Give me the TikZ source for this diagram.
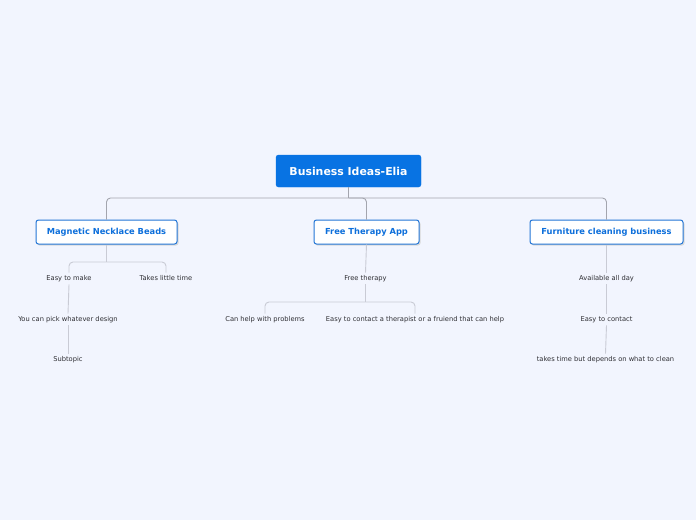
\documentclass[tikz,border=0pt]{standalone}
\usepackage{fontspec}
\setmainfont{DejaVu Sans}
\definecolor{bg}{HTML}{F2F5FE}
\definecolor{rootblue}{HTML}{0873E3}
\definecolor{bborder}{HTML}{2275D6}
\definecolor{btext}{HTML}{0D6FDB}
\definecolor{mainline}{HTML}{A3A5AE}
\definecolor{leafline}{HTML}{C9CBD5}
\definecolor{leaftext}{HTML}{2E2E33}
\begin{document}
\begin{tikzpicture}[x=1pt,y=-1pt,
  rootbox/.style={draw=rootblue,fill=rootblue,rounded corners=2.5pt,minimum width=145pt,minimum height=32pt,inner sep=0pt,
    font=\fontsize{10.9}{12}\selectfont\bfseries,text=white},
  branchbox/.style={draw=bborder,line width=1pt,fill=white,rounded corners=2.5pt,minimum height=24pt,inner sep=0pt,
    text height=5.6pt,text depth=0.6pt,
    font=\fontsize{8.3}{9}\selectfont\bfseries,text=btext},
  shadowbox/.style={fill=black!15,rounded corners=2.5pt},
  leaf/.style={font=\fontsize{6.7}{7.5}\selectfont,text=leaftext,inner sep=2.5pt,text height=5.1pt,text depth=1.3pt},
  mline/.style={draw=mainline,line width=0.9pt,rounded corners=4pt},
  lline/.style={draw=leafline,line width=0.9pt,rounded corners=4pt}]
\fill[bg] (0,0) rectangle (696,520);
\useasboundingbox (0,0) rectangle (696,520);

\node[rootbox] (root) at (348.5,171) {Business Ideas-Elia};

\fill[shadowbox] (37,221.5) rectangle (178.5,245.5);
\fill[shadowbox] (315,221.5) rectangle (420.5,245.5);
\fill[shadowbox] (531,221.5) rectangle (684.5,245.5);
\node[branchbox,minimum width=141pt] (b1) at (106.5,232) {Magnetic Necklace Beads};
\node[branchbox,minimum width=105pt] (b2) at (366.5,232) {Free Therapy App};
\node[branchbox,minimum width=153pt] (b3) at (606.5,232) {Furniture cleaning business};

\coordinate (hub) at (348.5,198);
\draw[mline] (root.south) -- (hub);
\draw[mline] (hub) -| (b1.north);
\draw[mline] (hub) -| (b2.north);
\draw[mline] (hub) -| (b3.north);

% leaves branch 1
\node[leaf] (l11) at (69,278.5) {Easy to make};
\node[leaf] (l12) at (166,278.5) {Takes little time};
\node[leaf] (l13) at (68,319.5) {You can pick whatever design};
\node[leaf] (l14) at (68,359.5) {Subtopic};
\coordinate (h1) at (106.5,262);
\draw[lline] (b1.south) -- (h1);
\draw[lline] (h1) -| (l11.north);
\draw[lline] (h1) -| (l12.north);
\draw[lline] (l11.south) -- (l13.north);
\draw[lline] (l13.south) -- (l14.north);

% leaves branch 2
\node[leaf] (l21) at (365.5,278.5) {Free therapy};
\node[leaf] (l22) at (265,319.5) {Can help with problems};
\node[leaf] (l23) at (415,319.5) {Easy to contact a therapist or a fruiend that can help};
\draw[lline] (b2.south) -- (l21.north);
\coordinate (h2) at (365.5,302);
\draw[lline] (l21.south) -- (h2);
\draw[lline] (h2) -| (l22.north);
\draw[lline] (h2) -| (l23.north);

% leaves branch 3
\node[leaf] (l31) at (606.5,278.5) {Available all day};
\node[leaf] (l32) at (606.5,319.5) {Easy to contact};
\node[leaf] (l33) at (605.5,359.5) {takes time but depends on what to clean};
\draw[lline] (b3.south) -- (l31.north);
\draw[lline] (l31.south) -- (l32.north);
\draw[lline] (l32.south) -- (l33.north);
\end{tikzpicture}
\end{document}
